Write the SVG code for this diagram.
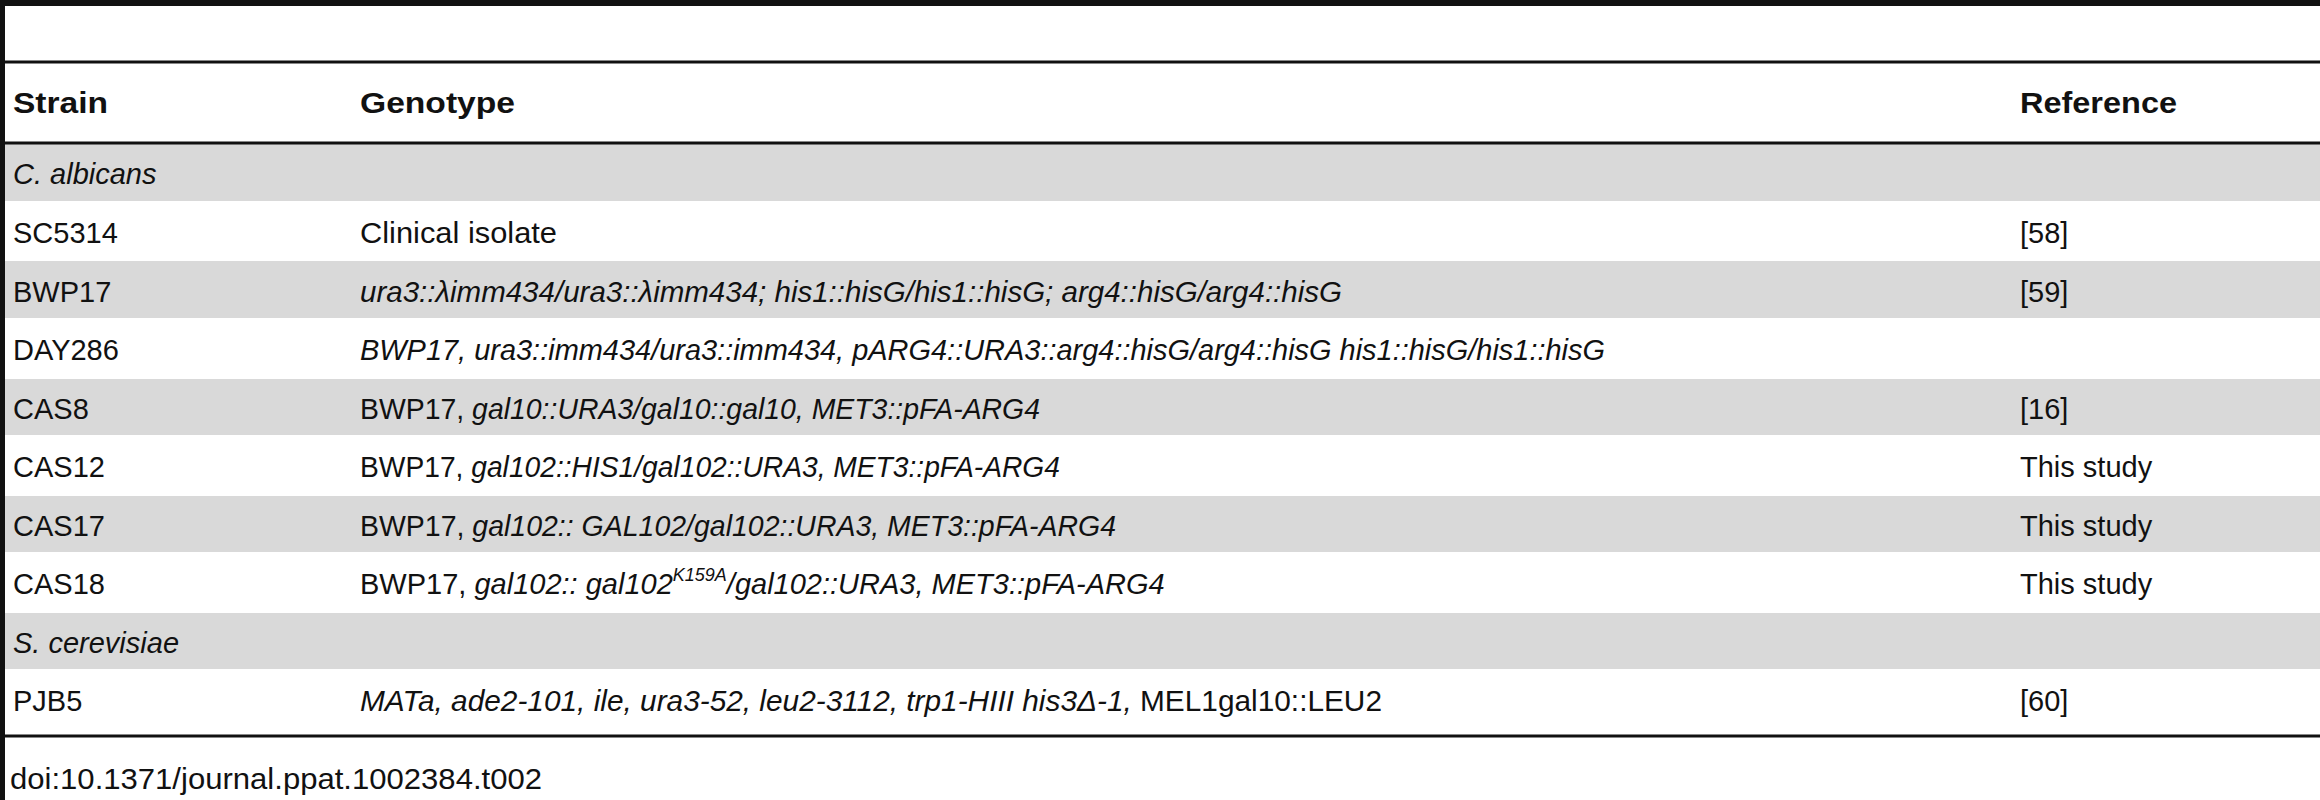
<svg xmlns="http://www.w3.org/2000/svg" width="2320" height="800" viewBox="0 0 2320 800">
<style>
text{font-family:"Liberation Sans",Arial,sans-serif;font-size:29px;fill:#111}
.h{font-weight:bold}
.i{font-style:italic}
.g{fill:#d9d9d9}
</style>
<rect width="2320" height="800" fill="#fff"/>
<g id="rows">
<rect class="g" x="5" y="144" width="2315" height="57"/>
<rect class="g" x="5" y="261" width="2315" height="57"/>
<rect class="g" x="5" y="379" width="2315" height="56"/>
<rect class="g" x="5" y="496" width="2315" height="56"/>
<rect class="g" x="5" y="613" width="2315" height="56"/>
</g>
<g id="rules" stroke="#111">
<line x1="0" y1="3" x2="2320" y2="3" stroke-width="6"/>
<line x1="0" y1="62" x2="2320" y2="62" stroke-width="3"/>
<line x1="0" y1="143" x2="2320" y2="143" stroke-width="3"/>
<line x1="0" y1="736" x2="2320" y2="736" stroke-width="3"/>
<line x1="2.5" y1="0" x2="2.5" y2="800" stroke-width="5"/>
</g>
<g id="header">
<text class="h" x="13" y="113" textLength="95" lengthAdjust="spacingAndGlyphs">Strain</text>
<text class="h" x="360" y="113" textLength="155" lengthAdjust="spacingAndGlyphs">Genotype</text>
<text class="h" x="2020" y="113" textLength="157" lengthAdjust="spacingAndGlyphs">Reference</text>
</g>
<g id="body">
<text class="i" x="13" y="184">C. albicans</text>
<text x="13" y="243">SC5314</text>
<text x="360" y="243" textLength="197" lengthAdjust="spacingAndGlyphs">Clinical isolate</text>
<text x="2020" y="243">[58]</text>
<text x="13" y="302">BWP17</text>
<text class="i" x="360" y="302" textLength="982" lengthAdjust="spacingAndGlyphs">ura3::λimm434/ura3::λimm434; his1::hisG/his1::hisG; arg4::hisG/arg4::hisG</text>
<text x="2020" y="302">[59]</text>
<text x="13" y="360">DAY286</text>
<text class="i" x="360" y="360" textLength="1245" lengthAdjust="spacingAndGlyphs">BWP17, ura3::imm434/ura3::imm434, pARG4::URA3::arg4::hisG/arg4::hisG his1::hisG/his1::hisG</text>
<text x="13" y="419">CAS8</text>
<text x="360" y="419" textLength="680" lengthAdjust="spacingAndGlyphs">BWP17, <tspan class="i">gal10::URA3/gal10::gal10, MET3::pFA-ARG4</tspan></text>
<text x="2020" y="419">[16]</text>
<text x="13" y="477">CAS12</text>
<text x="360" y="477" textLength="700" lengthAdjust="spacingAndGlyphs">BWP17, <tspan class="i">gal102::HIS1/gal102::URA3, MET3::pFA-ARG4</tspan></text>
<text x="2020" y="477">This study</text>
<text x="13" y="536">CAS17</text>
<text x="360" y="536" textLength="756" lengthAdjust="spacingAndGlyphs">BWP17, <tspan class="i">gal102:: GAL102/gal102::URA3, MET3::pFA-ARG4</tspan></text>
<text x="2020" y="536">This study</text>
<text x="13" y="594">CAS18</text>
<text x="360" y="594">BWP17, <tspan class="i">gal102:: gal102</tspan><tspan class="i" font-size="18" dy="-13">K159A</tspan><tspan class="i" dy="13">/gal102::URA3, MET3::pFA-ARG4</tspan></text>
<text x="2020" y="594">This study</text>
<text class="i" x="13" y="653">S. cerevisiae</text>
<text x="13" y="711">PJB5</text>
<text x="360" y="711" textLength="1022" lengthAdjust="spacingAndGlyphs"><tspan class="i">MATa, ade2-101, ile, ura3-52, leu2-3112, trp1-HIII his3Δ-1,</tspan> MEL1gal10::LEU2</text>
<text x="2020" y="711">[60]</text>
</g>
<text x="10" y="789" textLength="532" lengthAdjust="spacingAndGlyphs">doi:10.1371/journal.ppat.1002384.t002</text>
</svg>
